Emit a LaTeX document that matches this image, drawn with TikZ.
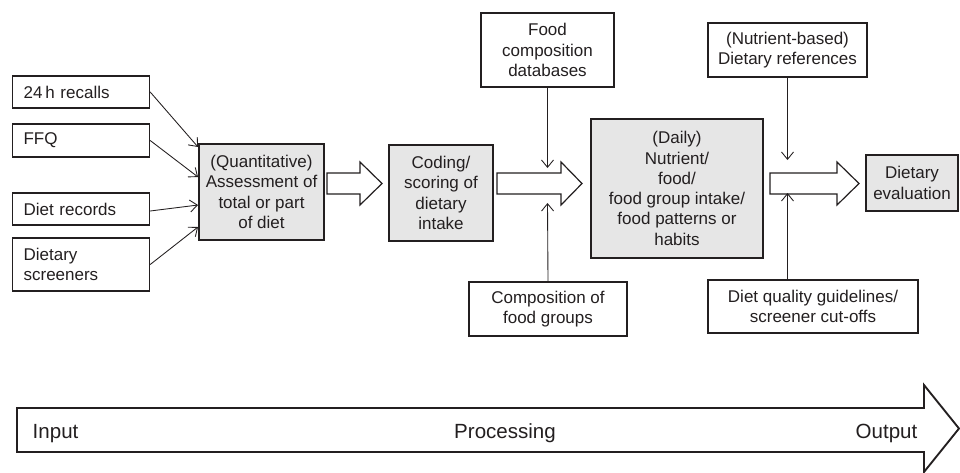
\documentclass[tikz,border=0pt]{standalone}
\usepackage{fontspec}
\setmainfont{Liberation Sans}
\usetikzlibrary{arrows.meta,calc}
\definecolor{ink}{RGB}{35,31,32}
\definecolor{boxfill}{RGB}{230,230,230}
\begin{document}
\begin{tikzpicture}[x=0.75pt,y=-0.75pt,
  every node/.style={font=\fontsize{12.75}{15.2}\selectfont, text=ink},
  gbox/.style={draw=ink, line width=0.9pt, fill=boxfill, inner sep=0pt, align=center},
  wbox/.style={draw=ink, line width=0.9pt, fill=white, inner sep=0pt, align=center},
  lbox/.style={draw=ink, line width=0.9pt, inner xsep=8.25pt, inner ysep=0pt, align=left,
               text width=86.25pt, minimum height=#1, anchor=west},
  conn/.style={draw=ink, line width=0.65pt, -{Straight Barb[length=5.5pt,width=9pt,line width=0.65pt]}},
  blockarrow/.style={draw=ink, line width=0.9pt, fill=white, line join=miter},
  bigarrow/.style={draw=ink, line width=1.4pt, fill=white, line join=miter},
  bigtext/.style={font=\fontsize{15.4}{18}\selectfont}
]
\useasboundingbox (0,0) rectangle (960,472);

% input boxes
\node[lbox=24pt]    (r24)  at (12,92)    {24\,h recalls};
\node[lbox=24.75pt] (ffq)  at (12,140.5) {FFQ};
\node[lbox=24pt]    (drec) at (12,209)   {Diet records};
\node[lbox=39.75pt] (dscr) at (12,264.5) {Dietary\\screeners};

% process boxes
\node[gbox, minimum width=93.75pt, minimum height=72pt] (quant) at (261.5,192)
  {(Quantitative)\\Assessment of\\total or part\\of diet};
\node[gbox, minimum width=78pt, minimum height=72pt] (coding) at (441,193)
  {Coding/\\scoring of\\dietary\\intake};
\node[gbox, minimum width=129pt, minimum height=104.25pt] (daily) at (677,188.5)
  {(Daily)\\Nutrient/\\food/\\food group intake/\\food patterns or\\habits};
\node[gbox, minimum width=69pt, minimum height=42pt] (deval) at (912,183)
  {Dietary\\evaluation};

% side boxes
\node[wbox, minimum width=99.75pt, minimum height=55.5pt] (fcd) at (547.5,50)
  {Food\\composition\\databases};
\node[wbox, minimum width=118.5pt, minimum height=40.5pt] (cfg) at (548,309)
  {Composition of\\food groups};
\node[wbox, minimum width=119.25pt, minimum height=40.5pt] (dref) at (787.5,50)
  {(Nutrient-based)\\Dietary references};
\node[wbox, minimum width=157.5pt, minimum height=39.75pt] (dq) at (813,306.5)
  {Diet quality guidelines/\\screener cut-offs};

% arrow ends
\coordinate (q1) at (198,147);
\coordinate (q2) at (198,177);
\coordinate (q3) at (198,205);
\coordinate (q4) at (198,227);
\coordinate (t1) at (547.5,168);
\coordinate (t2) at (547.5,203);
\coordinate (t3) at (787.5,160);
\coordinate (t4) at (787.5,193);

\draw[conn] (r24.east) -- (q1);
\draw[conn] (ffq.east) -- (q2);
\draw[conn] ([yshift=-1.5pt]drec.east) -- (q3);
\draw[conn] (dscr.east) -- (q4);

% block arrows
\draw[blockarrow] (327,173) -- (360,173) -- (360,162) -- (382,183.5) -- (360,205) -- (360,194) -- (327,194) -- cycle;
\draw[blockarrow] (497,173) -- (561,173) -- (561,162) -- (582,183.5) -- (561,205) -- (561,194) -- (497,194) -- cycle;
\draw[blockarrow] (770,173) -- (837,173) -- (837,162) -- (859,183.5) -- (837,205) -- (837,194) -- (770,194) -- cycle;

% vertical connectors
\draw[conn] (fcd.south) -- (t1);
\draw[conn] (cfg.north) -- (t2);
\draw[conn] (dref.south) -- (t3);
\draw[conn] (dq.north -| t4) -- (t4);

% big process arrow
\draw[bigarrow] (17,408) -- (924,408) -- (924,385) -- (959,428.5) -- (924,472) -- (924,452) -- (17,452) -- cycle;
\node[bigtext, anchor=base west] (inp) at (28,438) {Input};
\node[bigtext, anchor=base] (proc) at (505,438) {Processing};
\node[bigtext, anchor=base east] (outp) at (922,438) {Output};
\end{tikzpicture}
\end{document}
